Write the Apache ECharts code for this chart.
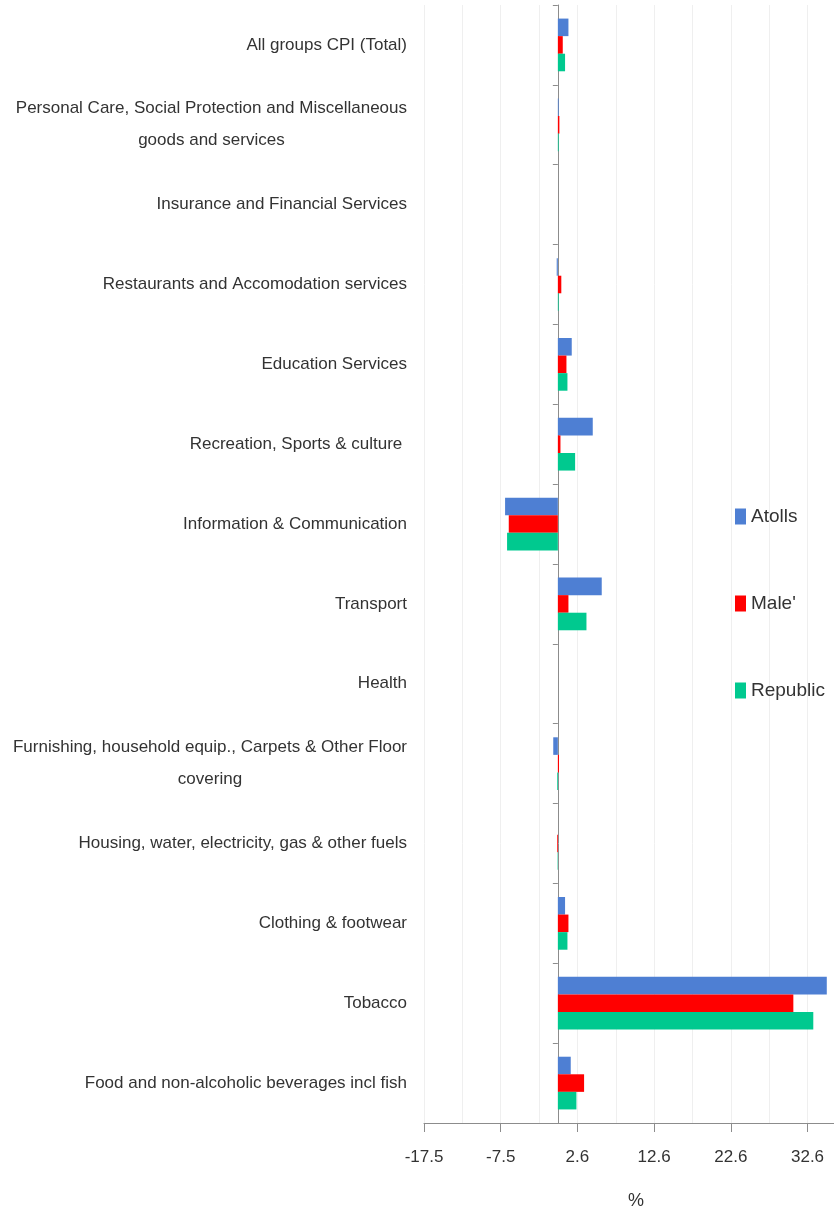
<!DOCTYPE html>
<html>
<head>
<meta charset="utf-8">
<script src="https://cdn.jsdelivr.net/npm/echarts@6/dist/echarts.min.js"></script>
<style>
  html, body { margin: 0; padding: 0; background: #ffffff; }
  #chart { width: 834px; height: 1211px; }
</style>
</head>
<body>
<div id="chart"></div>
<script>
// Categories, listed bottom to top
var categories = [
  'Food and non-alcoholic beverages incl fish',
  'Tobacco',
  'Clothing & footwear',
  'Housing, water, electricity, gas & other fuels',
  'Furnishing, household equip., Carpets & Other Floor\ncovering',
  'Health',
  'Transport',
  'Information & Communication',
  'Recreation, Sports & culture ',
  'Education Services',
  'Restaurants and Accomodation services',
  'Insurance and Financial Services',
  'Personal Care, Social Protection and Miscellaneous\ngoods and services',
  'All groups CPI (Total)'
];

var atolls   = [1.68, 35.06, 0.94, 0, -0.6, 0, 5.72, -6.88, 4.55, 1.81, -0.15, 0, 0.1, 1.38];
var male     = [3.42, 30.7, 1.38, -0.1, 0.15, 0, 1.38, -6.4, 0.34, 1.12, 0.45, 0, 0.2, 0.64];
var republic = [2.42, 33.3, 1.25, -0.05, -0.1, 0, 3.73, -6.62, 2.25, 1.25, 0.1, 0, 0.1, 0.94];

var seriesNames = ['Atolls', "Male'", 'Republic'];
var xTickLabels = ['-17.5', '-7.5', '2.6', '12.6', '22.6', '32.6'];
var xMin = -17.45;
var xMax = 36;

var FONT = "'Liberation Sans', Arial, sans-serif";
var TXT = '#333333';

var chart = echarts.init(document.getElementById('chart'), null, { renderer: 'canvas' });

chart.setOption({
  backgroundColor: '#ffffff',
  animation: false,
  grid: { left: 424, right: 0, top: 5, bottom: 88, containLabel: false, outerBoundsMode: 'none' },
  legend: {
    orient: 'vertical',
    left: 730,
    top: 502,
    data: seriesNames,
    icon: 'rect',
    itemWidth: 11,
    itemHeight: 16,
    itemGap: 68,
    itemTextGap: 5,
    textStyle: { fontFamily: FONT, fontSize: 19, color: TXT }
  },
  xAxis: [
    {
      type: 'value',
      min: xMin,
      max: xMax,
      interval: 5,
      axisLine: { show: false },
      axisTick: { show: false },
      axisLabel: { show: false },
      splitLine: { show: true, lineStyle: { color: '#efefef', width: 1 } }
    },
    {
      type: 'value',
      position: 'bottom',
      min: xMin,
      max: xMax,
      interval: 10,
      name: '%',
      nameLocation: 'middle',
      nameGap: 69,
      nameTextStyle: { fontFamily: FONT, fontSize: 18, color: TXT, padding: [0, 0, 0, 14] },
      axisLine: { show: true, lineStyle: { color: '#8c8c8c', width: 1 } },
      axisTick: { show: true, length: 9, lineStyle: { color: '#8c8c8c' } },
      axisLabel: {
        fontFamily: FONT, fontSize: 17, color: TXT, margin: 26,
        showMaxLabel: false,
        formatter: function (v, i) { return xTickLabels[i] !== undefined ? xTickLabels[i] : ''; }
      },
      splitLine: { show: false }
    }
  ],
  yAxis: [
    {
      type: 'category',
      position: 'left',
      data: categories,
      axisLine: { show: false, onZero: false },
      axisTick: { show: false },
      axisLabel: {
        margin: 17,
        fontFamily: FONT, fontSize: 17, color: TXT,
        formatter: function (v) {
          return v.split('\n').map(function (s) { return '{c|' + s + '}'; }).join('\n');
        },
        rich: {
          c: { align: 'center', fontFamily: FONT, fontSize: 17, color: TXT, lineHeight: 32 }
        }
      },
      splitLine: { show: false }
    },
    {
      type: 'category',
      position: 'left',
      data: categories,
      axisLine: { show: true, onZero: true, lineStyle: { color: '#8c8c8c', width: 1 } },
      axisTick: { show: true, length: 5, lineStyle: { color: '#8c8c8c' } },
      axisLabel: { show: false },
      splitLine: { show: false }
    }
  ],
  series: [
    { name: seriesNames[0], type: 'bar', data: atolls, xAxisIndex: 0, yAxisIndex: 0,
      barGap: '0%', barCategoryGap: '34%', itemStyle: { color: '#4E7FD3' } },
    { name: seriesNames[1], type: 'bar', data: male, xAxisIndex: 0, yAxisIndex: 0,
      barGap: '0%', barCategoryGap: '34%', itemStyle: { color: '#FF0000' } },
    { name: seriesNames[2], type: 'bar', data: republic, xAxisIndex: 0, yAxisIndex: 0,
      barGap: '0%', barCategoryGap: '34%', itemStyle: { color: '#00C98F' } }
  ]
});
</script>
</body>
</html>
